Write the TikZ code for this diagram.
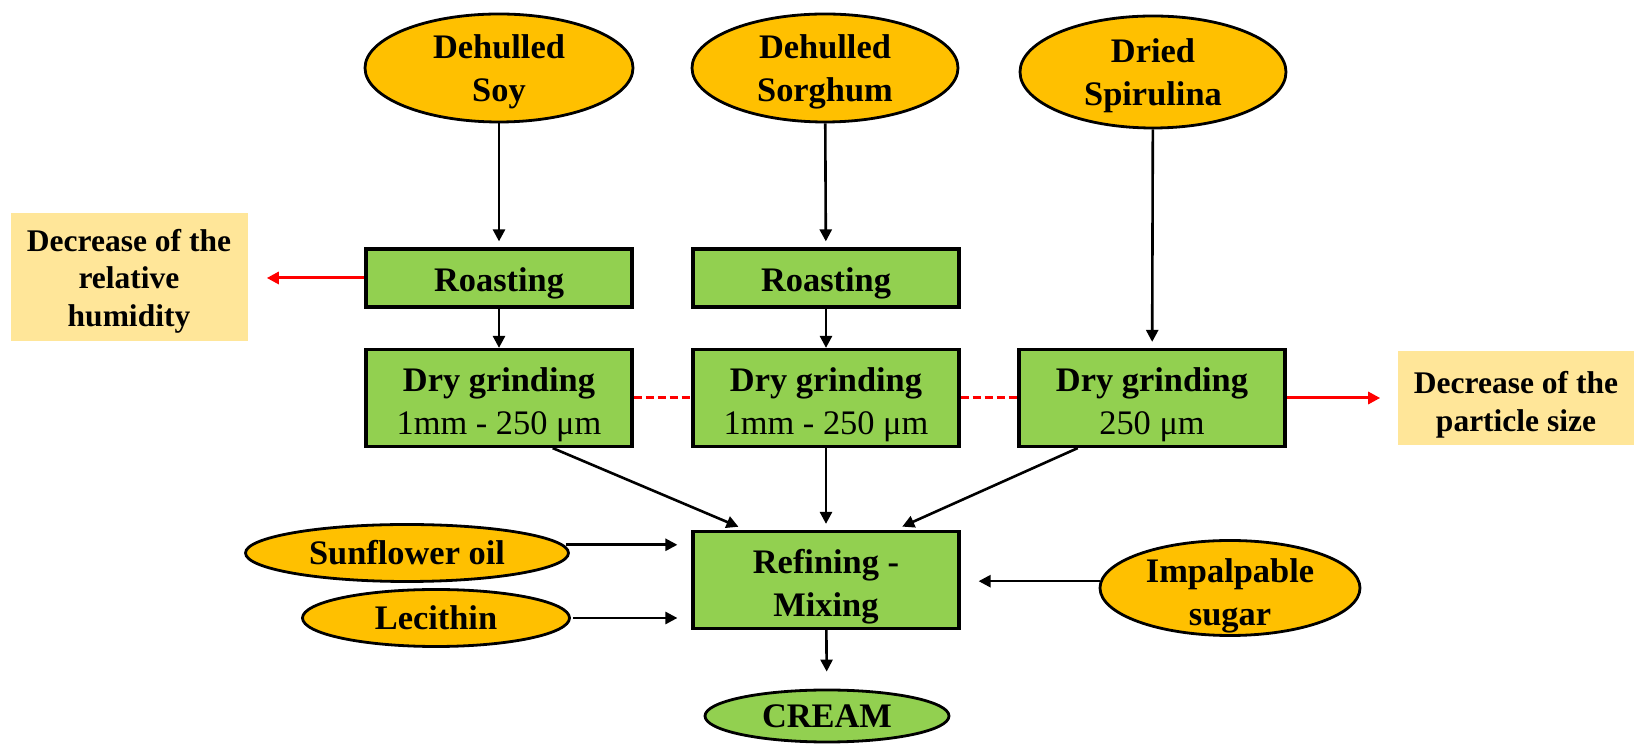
\documentclass[tikz,border=0pt]{standalone}
\usepackage{fontspec}
\setmainfont{Liberation Serif}
\usetikzlibrary{arrows.meta, shapes.geometric}
\definecolor{grainorange}{HTML}{FFC000}
\definecolor{stepgreen}{HTML}{92D050}
\definecolor{notefill}{HTML}{FFE699}
\tikzstyle{grain}=[ellipse, draw, line width=1.4pt, fill=grainorange, inner xsep=0pt, inner ysep=-3pt, align=center, font=\fontsize{17.2}{21.5}\selectfont\bfseries]
\tikzstyle{box}=[rectangle, draw, line width=1.6pt, fill=stepgreen, inner ysep=2pt, minimum width=133pt, align=center, font=\fontsize{17.2}{21.5}\selectfont\bfseries]
\tikzstyle{note}=[rectangle, fill=notefill, minimum width=118.5pt, align=center, font=\fontsize{15.75}{18.75}\selectfont\bfseries]

\begin{document}
\begin{tikzpicture}[x=0.5pt, y=-0.5pt, >={Triangle[length=6pt, width=6pt]}, line width=1.3pt]
\useasboundingbox (0,0) rectangle (1634,747);
% raw materials
\node[grain, text height=37.5pt, minimum width=134pt, minimum height=54pt] at (499,68) (soy) {Dehulled\\Soy};
\node[grain, text height=37.5pt, minimum width=133pt, minimum height=54pt] at (825,68) (sorghum) {Dehulled\\Sorghum};
\node[grain, text height=37.5pt, minimum width=133pt, minimum height=56pt] at (1153,72) (spir) {Dried\\Spirulina};
% processing
\node[box, text height=17pt, minimum height=29pt] at (499,278) (roast1) {Roasting};
\node[box, text height=17pt, minimum height=29pt] at (826,278) (roast2) {Roasting};
\node[box, text height=40pt, minimum height=48.5pt] at (499,398) (grind1) {Dry grinding\\{\mdseries 1mm - 250 μm}};
\node[box, text height=40pt, minimum height=48.5pt] at (826,398) (grind2) {Dry grinding\\{\mdseries 1mm - 250 μm}};
\node[box, text height=40pt, minimum height=48.5pt] at (1152,398) (grind3) {Dry grinding\\{\mdseries 250 μm}};
\node[box, text height=40pt, minimum height=48.5pt] at (826,580) (refine) {Refining -\\Mixing};
\node[grain, fill=stepgreen, minimum width=122pt, minimum height=26pt] at (827,716) (cream) {CREAM};
% other ingredients
\node[grain, minimum width=161.5pt, minimum height=28.5pt] at (407,553) (oil) {Sunflower oil};
\node[grain, minimum width=133.5pt, minimum height=28.5pt] at (436,618) (lec) {Lecithin};
\node[grain, text height=41pt, inner ysep=-8pt, minimum width=130pt, minimum height=47.5pt] at (1230,588) (sugar) {Impalpable\\sugar};
% effects
\node[note, text height=52.5pt, minimum height=64pt] at (129,277) (hum) {Decrease of the\\relative\\humidity};
\node[note, text height=36.5pt, minimum height=44.5pt] at (1516,398) (size) {Decrease of the\\particle size};

\draw[->, shorten >=3pt] (soy) -- (roast1);
\draw[->, shorten >=3pt] (sorghum) -- (roast2);
\draw[->] (roast1) -- (grind1);
\draw[->] (roast2) -- (grind2);
\draw[->, shorten >=3pt] (spir) -- (grind3);
\draw[->, shorten >=4pt] (grind1.-43) -- (refine.148);
\draw[->, shorten >=3pt] (grind2) -- (refine);
\draw[->, shorten >=4pt] (grind3.214) -- (refine.36);
\draw[->, shorten <=1pt, shorten >=7pt] (oil.3) -- (oil.3 -| refine.west);
\draw[->, shorten <=1pt, shorten >=7pt] (lec.east) -- (lec.east -| refine.west);
\draw[->, shorten >=9pt] (sugar.177) -- (sugar.177 -| refine.east);
\draw[->, shorten >=8.5pt] (refine) -- (cream);
% red links
\draw[->, red, line width=1.5pt, shorten >=9pt] (roast1.west) -- (roast1.west -| hum.east);
\draw[->, red, line width=1.5pt, shorten >=8pt] (grind3.east) -- (grind3.east -| size.west);
\draw[red, line width=1.5pt, dash pattern=on 4pt off 2pt] (grind1.east) -- (grind2.west);
\draw[red, line width=1.5pt, dash pattern=on 4pt off 2pt] (grind2.east) -- (grind3.west);
\end{tikzpicture}
\end{document}
